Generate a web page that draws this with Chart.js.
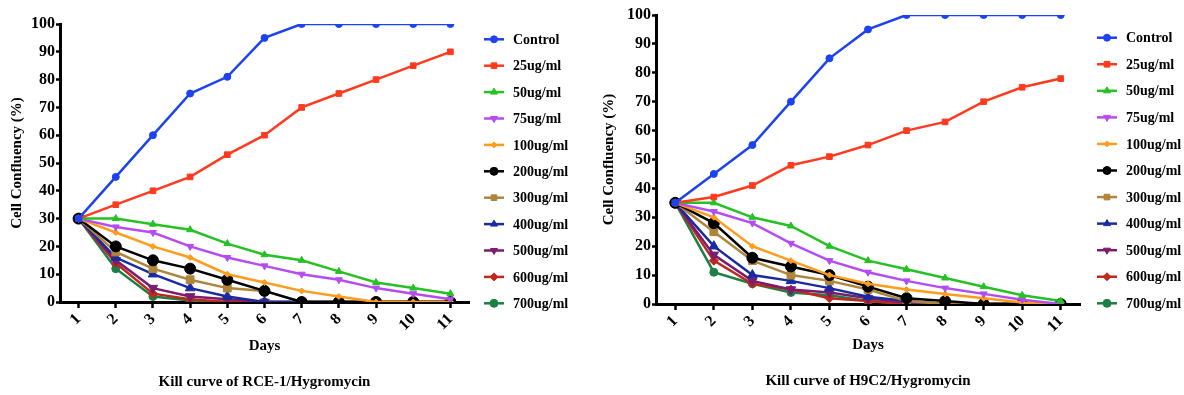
<!DOCTYPE html>
<html>
<head>
<meta charset="utf-8">
<script src="https://cdn.jsdelivr.net/npm/chart.js@4.4.1/dist/chart.umd.min.js"></script>
<style>
  body { margin: 0; background: #fff; }
  #wrap { position: relative; width: 1184px; height: 395px; }
  canvas { position: absolute; top: 0; }
</style>
</head>
<body>
<div id="wrap">
  <canvas id="rce" width="592" height="395" style="left:0px"></canvas>
  <canvas id="h9c2" width="592" height="395" style="left:592px"></canvas>
</div>
<script>
const days = ['1', '2', '3', '4', '5', '6', '7', '8', '9', '10', '11'];
const doses = ['Control', '25ug/ml', '50ug/ml', '75ug/ml', '100ug/ml', '200ug/ml',
  '300ug/ml', '400ug/ml', '500ug/ml', '600ug/ml', '700ug/ml'];
const colors = ['#1C42F2', '#FF3A1E', '#25C125', '#B54CF2', '#FF9C1B', '#000000',
  '#AF853A', '#1A2BA0', '#7B1C6C', '#C0281E', '#1E7F45'];
const markers = ['circle', 'rect', 'triangle', 'triangle', 'rectRot', 'circle',
  'rect', 'triangle', 'triangle', 'rectRot', 'circle'];
const markerTurn = [0, 0, 0, 180, 0, 0, 0, 0, 180, 0, 0];
const markerSize = [3.5, 4, 4, 4, 3, 5.5, 5.5, 5.5, 5.5, 4.5, 4];

// RCE-1 kill curve
const rceControl = [30, 45, 60, 75, 81, 95, 100, 100, 100, 100, 100];
const rce25 = [30, 35, 40, 45, 53, 60, 70, 75, 80, 85, 90];
const rce50 = [30, 30, 28, 26, 21, 17, 15, 11, 7, 5, 3];
const rce75 = [30, 27, 25, 20, 16, 13, 10, 8, 5, 3, 1];
const rce100 = [30, 25, 20, 16, 10, 7, 4, 2, 0, 0, 0];
const rce200 = [30, 20, 15, 12, 8, 4, 0, 0, 0, 0, 0];
const rce300 = [30, 18, 12, 8, 5, 4, 0, 0, 0, 0, 0];
const rce400 = [30, 16, 10, 5, 2, 0, 0, 0, 0, 0, 0];
const rce500 = [30, 15, 5, 2, 1, 0, 0, 0, 0, 0, 0];
const rce600 = [30, 14, 3, 1, 0, 0, 0, 0, 0, 0, 0];
const rce700 = [30, 12, 2, 0.5, 0, 0, 0, 0, 0, 0, 0];

// H9C2 kill curve
const h9Control = [35, 45, 55, 70, 85, 95, 100, 100, 100, 100, 100];
const h925 = [35, 37, 41, 48, 51, 55, 60, 63, 70, 75, 78];
const h950 = [35, 35, 30, 27, 20, 15, 12, 9, 6, 3, 1];
const h975 = [35, 32, 28, 21, 15, 11, 8, 5.5, 3.5, 1.5, 0];
const h9100 = [35, 30, 20, 15, 10, 7, 5, 3.5, 2, 0.5, 0];
const h9200 = [35, 28, 16, 13, 10, 6, 2, 1, 0, 0, 0];
const h9300 = [35, 25, 15, 10, 8, 5, 1, 0, 0, 0, 0];
const h9400 = [35, 20, 10, 8, 5.5, 2.5, 1, 0, 0, 0, 0];
const h9500 = [35, 17, 8, 5, 4, 2, 0.5, 0, 0, 0, 0];
const h9600 = [35, 15, 7, 5, 2, 1, 0, 0, 0, 0, 0];
const h9700 = [35, 11, 7, 4, 3, 1, 0, 0, 0, 0, 0];

const rceSeries = [rceControl, rce25, rce50, rce75, rce100, rce200, rce300, rce400, rce500, rce600, rce700];
const h9Series = [h9Control, h925, h950, h975, h9100, h9200, h9300, h9400, h9500, h9600, h9700];

const serif = "'Liberation Serif', 'Times New Roman', serif";

// legend drawn as line + marker, like the prism style
const sideLegend = {
  id: 'sideLegend',
  afterDraw(chart, args, opts) {
    const ctx = chart.ctx;
    ctx.save();
    chart.data.datasets.forEach((ds, i) => {
      const y = opts.y0 + i * opts.step;
      ctx.strokeStyle = ds.borderColor;
      ctx.fillStyle = ds.borderColor;
      ctx.lineWidth = 2.5;
      ctx.beginPath();
      ctx.moveTo(opts.x, y);
      ctx.lineTo(opts.x + 20, y);
      ctx.stroke();
      ctx.lineWidth = 1;
      Chart.helpers.drawPoint(ctx, {
        pointStyle: ds.pointStyle,
        rotation: ds.pointRotation,
        radius: Math.min(ds.pointRadius, 4),
        borderWidth: 1
      }, opts.x + 10, y);
      ctx.fillStyle = '#000';
      ctx.font = 'bold 14px ' + serif;
      ctx.textBaseline = 'middle';
      ctx.textAlign = 'left';
      ctx.fillText(ds.label, opts.textX, y + 1);
    });
    ctx.restore();
  }
};

function makeChart(id, series, title, pad, yWidth, xHeight, legendPos) {
  const datasets = series.map((vals, i) => ({
    label: doses[i],
    data: vals,
    borderColor: colors[i],
    backgroundColor: colors[i],
    borderWidth: 2.5,
    pointStyle: markers[i],
    pointRotation: markerTurn[i],
    pointRadius: markerSize[i],
    pointBorderWidth: 1,
    tension: 0
  }));
  return new Chart(document.getElementById(id), {
    type: 'line',
    data: { labels: days, datasets: datasets },
    options: {
      responsive: false,
      animation: false,
      layout: { padding: pad },
      plugins: {
        legend: { display: false },
        tooltip: { enabled: false },
        title: {
          display: true,
          text: title,
          position: 'bottom',
          fullSize: false,
          color: '#000',
          font: { family: serif, size: 15, weight: 'bold', lineHeight: 1.2 },
          padding: 0
        },
        sideLegend: legendPos
      },
      scales: {
        x: {
          offset: true,
          afterFit(s) { s.height = xHeight; },
          grid: { display: true, drawOnChartArea: false, offset: false, tickLength: 6, tickColor: '#000', tickWidth: 2.5 },
          border: { color: '#000', width: 3 },
          ticks: {
            color: '#000', minRotation: 45, maxRotation: 45, padding: 2,
            font: { family: serif, size: 16, weight: 'bold' }
          },
          title: {
            display: true, text: 'Days', color: '#000',
            font: { family: serif, size: 15, weight: 'bold', lineHeight: 1.2 },
            padding: { top: 0, bottom: 18 }
          }
        },
        y: {
          min: 0, max: 100,
          afterFit(s) { s.width = yWidth; },
          grid: { display: true, drawOnChartArea: false, tickLength: 4, tickColor: '#000', tickWidth: 2.5 },
          border: { color: '#000', width: 3 },
          ticks: {
            stepSize: 10, color: '#000', padding: 1,
            font: { family: serif, size: 16, weight: 'bold' }
          },
          title: {
            display: true, text: 'Cell Confluency (%)', color: '#000',
            font: { family: serif, size: 15, weight: 'bold', lineHeight: 1.2 },
            padding: { top: 8, bottom: 0 }
          }
        }
      }
    },
    plugins: [sideLegend]
  });
}

makeChart('rce', rceSeries, 'Kill curve of RCE-1/Hygromycin',
  { top: 24, right: 123, bottom: 4, left: 0 }, 60, 71,
  { x: 484, textX: 513, y0: 39.3, step: 26.4 });
makeChart('h9c2', h9Series, 'Kill curve of H9C2/Hygromycin',
  { top: 15, right: 104, bottom: 5, left: 0 }, 64, 68,
  { x: 505, textX: 534, y0: 37.7, step: 26.56 });
</script>
</body>
</html>
